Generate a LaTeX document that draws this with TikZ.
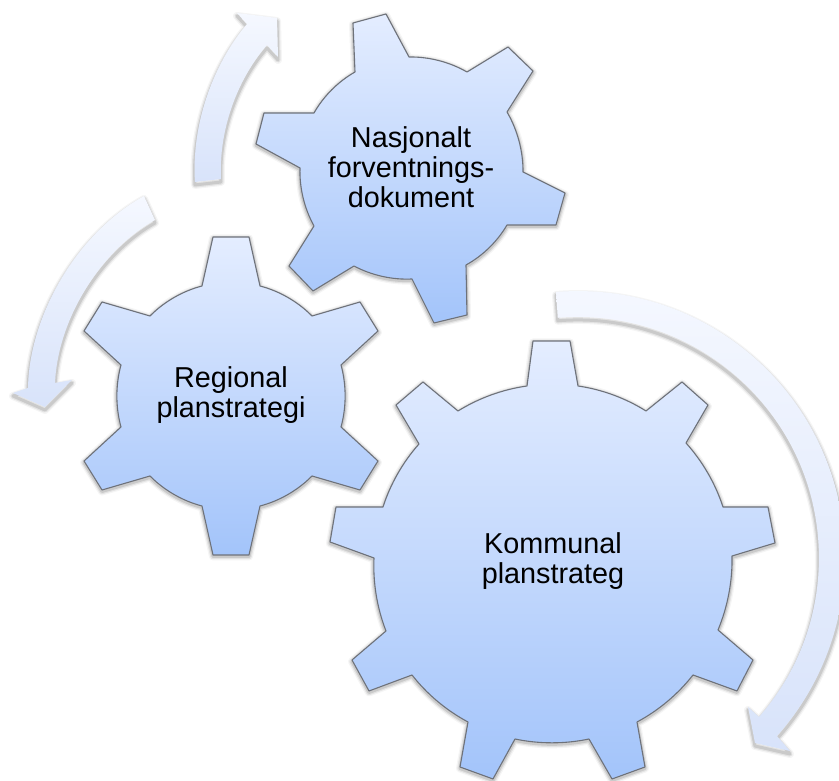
\documentclass[tikz,border=0pt]{standalone}
\usepackage{fontspec}
\setmainfont{Liberation Sans}
\definecolor{geartop}{RGB}{228,237,255}
\definecolor{gearbot}{RGB}{163,196,250}
\definecolor{arrtop}{RGB}{245,248,255}
\definecolor{arrbot}{RGB}{216,227,250}
\definecolor{edge}{RGB}{110,114,122}
\tikzset{
  gearfill/.style={top color=geartop,bottom color=gearbot,draw=edge,line width=1.1pt,line join=round},
  arrowfill/.style={top color=arrtop,bottom color=arrbot,draw=none},
  softa/.style={draw=black,opacity=.04,line width=8pt,line join=round},
  softb/.style={draw=black,opacity=.07,line width=5.5pt,line join=round},
  softc/.style={draw=black,opacity=.11,line width=3pt,line join=round},
  gearlabel/.style={font=\fontsize{28.8}{30}\selectfont,align=center,text=black,inner sep=0pt},
  b/.style={bend right=12,looseness=.85},
  c/.style={bend right=15.5,looseness=.85}
}
\def\gearone{(353,23) -- (386,14) -- (409,57) to[c] (467,72) -- (508,47) -- (533,71) -- (507,112) to[c] (523,172) -- (565,193) -- (556,225) -- (507,225) to[c] (466,265) -- (467,315) -- (434,323) -- (412,279) to[c] (354,266) -- (313,291) -- (289,266) -- (314,226) to[c] (300,168) -- (256,144) -- (264,113) -- (314,113) to[c] (355,72) -- cycle}
\def\geartwo{(213,237) -- (249,237) -- (260,286) to[c] (312,316) -- (360,302) -- (378,331) -- (341,365) to[c] (341,427) -- (378,461) -- (360,490) -- (312,476) to[c] (260,506) -- (249,555) -- (213,555) -- (202,506) to[c] (150,476) -- (102,490) -- (84,461) -- (121,427) to[c] (121,365) -- (84,331) -- (102,302) -- (150,316) to[c] (202,286) -- cycle}
\def\gearthree{(533,341) -- (570,341) -- (578,386) to[b] (646,411) -- (682,382) -- (708,405) -- (686,443) to[b] (723,507) -- (768,507) -- (775,543) -- (732,556) to[b] (718,630) -- (753,660) -- (737,691) -- (693,675) to[b] (637,722) -- (645,767) -- (612,779) -- (589,739) to[b] (515,739) -- (493,779) -- (460,767) -- (468,722) to[b] (412,675) -- (369,691) -- (352,660) -- (386,631) to[b] (374,558) -- (330,542) -- (336,507) -- (383,507) to[b] (419,444) -- (396,405) -- (423,382) -- (458,411) to[b] (527,386) -- cycle}
\def\arrowone{(195,182) to[bend right=22,looseness=.85] (247,24) -- (237,13) -- (277,18) -- (278,57) -- (267,45) to[bend left=22,looseness=.85] (221,179) -- cycle}
\def\arrowtwo{(144,196) to[bend left=30,looseness=.85] (28,388) -- (13,393) -- (45,407) -- (72,380) -- (55,383) to[bend right=29,looseness=.85] (155,220) -- cycle}
\def\arrowthree{(556,292) arc[start angle=-94.7,end angle=41.8,radius=267pt] -- (790,751) -- (755,743) -- (748,707) -- (759,717) arc[start angle=41.3,end angle=-94.8,radius=241pt] -- cycle}
\newcommand{\softpath}[2]{%
  \path[softa,shift={(0,#2)}] #1;
  \path[softb,shift={(0,#2)}] #1;
  \path[softc,shift={(0,#2)}] #1;}
\begin{document}
\begin{tikzpicture}[x=1pt,y=1pt,yscale=-1,yshift=-781pt]
\path[fill=white] (0,0) rectangle (839,781);
\useasboundingbox (0,0) rectangle (839,781);
\clip (0,0) rectangle (839,781);
% arrows
\softpath{\arrowone}{3}
\shade[arrowfill] \arrowone;
\softpath{\arrowtwo}{3}
\shade[arrowfill] \arrowtwo;
\softpath{\arrowthree}{3}
\shade[arrowfill] \arrowthree;
% gears
\softpath{\gearone}{1.5}
\shade[gearfill] \gearone;
\softpath{\geartwo}{1.5}
\shade[gearfill] \geartwo;
\softpath{\gearthree}{1.5}
\shade[gearfill] \gearthree;
% labels
\node[gearlabel] (nasjonalt) at (411,167) {Nasjonalt\\forventnings-\\dokument};
\node[gearlabel] (regional) at (231,395) {Regional\\planstrategi};
\node[gearlabel] (kommunal) at (553,561) {Kommunal\\planstrateg};
\end{tikzpicture}
\end{document}
